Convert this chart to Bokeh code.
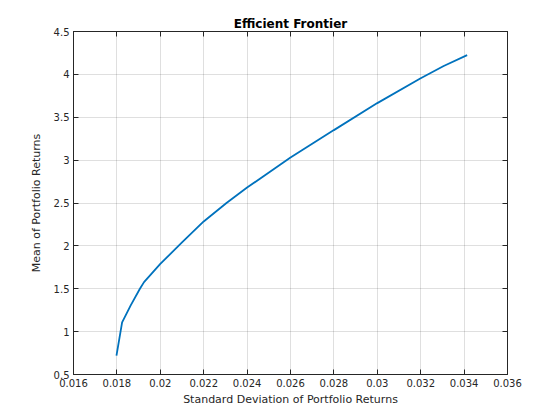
from bokeh.plotting import figure
from bokeh.models import (LinearAxis, FixedTicker, CustomJSTickFormatter, Label, Range1d)
from bokeh.embed import file_html
from bokeh.resources import INLINE

# Data
std_dev = [0.01798, 0.01824, 0.01863, 0.01906, 0.01925, 0.02000, 0.02100,
           0.02200, 0.02305, 0.02400, 0.02600, 0.02800, 0.03000,
           0.03200, 0.03306, 0.03414]
mean_ret = [0.00072, 0.001108, 0.001303, 0.00150, 0.001577, 0.00179, 0.00204,
            0.002285, 0.00250, 0.00268, 0.00303, 0.00335, 0.003665,
            0.003955, 0.004097, 0.004225]

x_ticks = [0.016, 0.018, 0.020, 0.022, 0.024, 0.026, 0.028, 0.030, 0.032, 0.034, 0.036]
y_ticks = [0.0005, 0.0010, 0.0015, 0.0020, 0.0025, 0.0030, 0.0035, 0.0040, 0.0045]

FONT = "DejaVu Sans"
AX = "#262626"

p = figure(width=552, height=412, output_backend="svg", toolbar_location=None,
           x_range=Range1d(0.016, 0.036), y_range=Range1d(0.0005, 0.0045),
           min_border_left=73, min_border_right=45, min_border_top=31, min_border_bottom=38,
           background_fill_color="white", border_fill_color="white")

p.title.text = "Efficient Frontier"
p.title.align = "center"
p.title.text_font = FONT
p.title.text_font_size = "12px"
p.title.text_font_style = "bold"
p.title.text_color = "black"
p.title.standoff = 2

p.outline_line_color = AX
p.outline_line_width = 1

xfmt = CustomJSTickFormatter(code="return parseFloat(tick.toFixed(4)).toString();")
yfmt = CustomJSTickFormatter(code="return (Math.round(tick*1e4)/10).toString();")
blank = CustomJSTickFormatter(code="return '';")

def style(ax):
    ax.axis_line_color = AX
    ax.major_tick_line_color = AX
    ax.major_tick_in = 5
    ax.major_tick_out = 0
    ax.minor_tick_line_color = None
    ax.major_label_text_font = FONT
    ax.major_label_text_font_size = "10px"
    ax.major_label_text_color = AX
    ax.axis_label_text_font = FONT
    ax.axis_label_text_font_size = "11px"
    ax.axis_label_text_font_style = "normal"
    ax.axis_label_text_color = AX

xa = p.xaxis[0]
xa.ticker = FixedTicker(ticks=x_ticks)
xa.formatter = xfmt
xa.axis_label = "Standard Deviation of Portfolio Returns"
style(xa)
xa.major_label_standoff = 4
xa.axis_label_standoff = 3

ya = p.yaxis[0]
ya.ticker = FixedTicker(ticks=y_ticks)
ya.formatter = yfmt
ya.axis_label = "Mean of Portfolio Returns"
style(ya)
ya.major_label_standoff = 4
ya.axis_label_standoff = 8

top = LinearAxis(ticker=FixedTicker(ticks=x_ticks), formatter=blank)
style(top)
top.major_label_standoff = 0
p.add_layout(top, "above")
right = LinearAxis(ticker=FixedTicker(ticks=y_ticks), formatter=blank)
style(right)
right.major_label_standoff = 0
p.add_layout(right, "right")

for g in (p.xgrid[0], p.ygrid[0]):
    g.grid_line_color = AX
    g.grid_line_alpha = 0.15
p.xgrid[0].ticker = FixedTicker(ticks=x_ticks)
p.ygrid[0].ticker = FixedTicker(ticks=y_ticks)

p.line(std_dev, mean_ret, line_color="#0072BD", line_width=1.8)

p.add_layout(Label(x=0.016, y=0.0045, x_offset=0, y_offset=2, text="×10",
                   text_font=FONT, text_font_size="10px", text_color="#555555",
                   text_baseline="bottom", text_align="left"))
p.add_layout(Label(x=0.016, y=0.0045, x_offset=21, y_offset=7, text="-3",
                   text_font=FONT, text_font_size="7px", text_color="#555555",
                   text_baseline="bottom", text_align="left"))

open("out.html", "w").write(file_html(p, INLINE))
